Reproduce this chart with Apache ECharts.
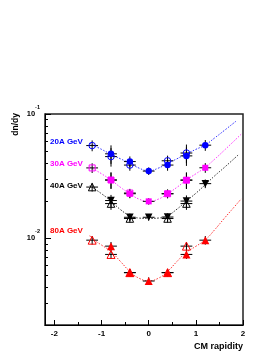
<!DOCTYPE html>
<html><head><meta charset="utf-8">
<script src="https://cdn.jsdelivr.net/npm/echarts@6/dist/echarts.min.js"></script>
<style>html,body{margin:0;padding:0;background:#fff}#c{width:276px;height:357px}</style>
</head><body><div id="c"></div><script>
// ---- data ----
const rapFilled = [-0.8, -0.4, 0, 0.4, 0.8, 1.2];
const rapOpen   = [-1.2, -0.8, -0.4, 0.4, 0.8];
const rapHalfWidth = 0.125;

const e20Filled = [0.0478, 0.0414, 0.0347, 0.0388, 0.0460, 0.0561];
const e20Open   = [0.0557, 0.0454, 0.0388, 0.0420, 0.0485];
const e20ErrF   = [0.17, 0.10, 0.07, 0.10, 0.17, 0.10];
const e20ErrO   = [0.10, 0.17, 0.10, 0.10, 0.17];

const e30Filled = [0.0294, 0.0228, 0.0198, 0.0228, 0.0294, 0.0369];
const e30Open   = [0.0368, 0.0294, 0.0231, 0.0228, 0.0293];
const e30ErrF   = [0.15, 0.08, 0.06, 0.08, 0.15, 0.09];
const e30ErrO   = [0.09, 0.15, 0.08, 0.08, 0.15];

const e40Filled = [0.0201, 0.01474, 0.01474, 0.0148, 0.0199, 0.0275];
const e40Open   = [0.0258, 0.0190, 0.0144, 0.0144, 0.0190];
const e40ErrF   = [0.11, 0.07, 0.06, 0.07, 0.11, 0.08];
const e40ErrO   = [0.08, 0.11, 0.07, 0.07, 0.11];

const e80Filled = [0.00863, 0.00528, 0.00452, 0.00528, 0.0074, 0.00964];
const e80Open   = [0.00964, 0.0074, 0.00528, 0.00528, 0.00863];
const e80ErrF   = [0.08, 0.07, 0.07, 0.07, 0.08, 0.08];
const e80ErrO   = [0.08, 0.08, 0.07, 0.07, 0.08];

// fitted curves (dotted)
const c20X = [-1.25, -1.0, -0.8, -0.6, -0.4, -0.2, 0, 0.2, 0.4, 0.6, 0.8, 1.0, 1.2, 1.4, 1.6, 1.85];
const c20Y = [0.058, 0.0519, 0.0474, 0.0436, 0.0402, 0.0366, 0.0349, 0.0366, 0.0400, 0.0436, 0.0478, 0.0519, 0.0564, 0.0642, 0.0735, 0.0874];
const c30X = [-1.25, -1.2, -1.0, -0.8, -0.6, -0.4, -0.2, 0, 0.2, 0.4, 0.6, 0.8, 1.0, 1.2, 1.4, 1.6, 1.96];
const c30Y = [0.0376, 0.0366, 0.0330, 0.0294, 0.0257, 0.0228, 0.0206, 0.0198, 0.0206, 0.0228, 0.0257, 0.0294, 0.0330, 0.0372, 0.0433, 0.0509, 0.0687];
const c40X = [-1.25, -1.2, -1.0, -0.8, -0.6, -0.4, -0.2, 0, 0.2, 0.4, 0.6, 0.8, 1.0, 1.2, 1.4, 1.6, 1.92];
const c40Y = [0.02647, 0.0257, 0.0228, 0.0199, 0.0170, 0.0152, 0.01452, 0.0144, 0.01452, 0.0152, 0.01715, 0.0199, 0.0230, 0.02696, 0.0318, 0.0370, 0.0476];
const c80X = [-1.25, -1.2, -1.0, -0.8, -0.6, -0.4, -0.2, 0, 0.2, 0.4, 0.6, 0.8, 1.0, 1.2, 1.4, 1.6, 1.8, 1.96];
const c80Y = [0.0105, 0.0099, 0.0088, 0.0078, 0.0065, 0.0054, 0.00475, 0.00454, 0.00475, 0.0054, 0.0065, 0.0077, 0.0086, 0.0097, 0.0117, 0.0144, 0.0176, 0.0207];

const xMajorTicks = [-2, -1, 0, 1, 2];
const xMinorTicks = [-1.5, -0.5, 0.5, 1.5];
const yMajorTicks = [0.01, 0.1];
const yMinorTicks = [0.002, 0.003, 0.004, 0.005, 0.006, 0.007, 0.008, 0.009,
                     0.02, 0.03, 0.04, 0.05, 0.06, 0.07, 0.08, 0.09];

const energyLabels = ['20A GeV', '30A GeV', '40A GeV', '80A GeV'];

// ---- styling ----
const FONT = 'Liberation Sans, Arial, Helvetica, sans-serif';
const sets = [
  {color:'#0000ff', fill:'circle', open:'circle', size:6.5, rot:0, rotO:0,
   f:e20Filled, o:e20Open, ef:e20ErrF, eo:e20ErrO, cx:c20X, cy:c20Y, curve:'#3333ff'},
  {color:'#ff00ff', fill:'rect', open:'rect', size:6, rot:0, rotO:0,
   f:e30Filled, o:e30Open, ef:e30ErrF, eo:e30ErrO, cx:c30X, cy:c30Y, curve:'#ff33ff'},
  {color:'#000000', fill:'triangle', open:'triangle', size:7.5, rot:180, rotO:0,
   f:e40Filled, o:e40Open, ef:e40ErrF, eo:e40ErrO, cx:c40X, cy:c40Y, curve:'#333333'},
  {color:'#ff0000', fill:'triangle', open:'triangle', size:8, rot:0, rotO:0,
   f:e80Filled, o:e80Open, ef:e80ErrF, eo:e80ErrO, cx:c80X, cy:c80Y, curve:'#ff3333'}
];
const labelY = [141.5, 163.5, 186, 231];

function zip(xs, ys) { return xs.map((x, i) => [x, ys[i]]); }
function zip3(xs, ys, es) { return xs.map((x, i) => [x, ys[i], es[i]]); }

function renderErr(params, api) {
  const x = api.value(0), y = api.value(1), e = api.value(2);
  const p = api.coord([x, y]);
  const lo = api.coord([x, y * (1 - e)]);
  const hi = api.coord([x, y * (1 + e)]);
  const l = api.coord([x - rapHalfWidth, y]);
  const r = api.coord([x + rapHalfWidth, y]);
  const st = {stroke:'#000', lineWidth:1};
  return {type:'group', children:[
    {type:'line', shape:{x1:l[0], y1:p[1], x2:r[0], y2:p[1]}, style:st},
    {type:'line', shape:{x1:p[0], y1:lo[1], x2:p[0], y2:hi[1]}, style:st}
  ]};
}

const series = [];
sets.forEach((s, i) => {
  series.push({type:'line', data: zip(s.cx, s.cy), smooth:true, showSymbol:false, silent:true,
    lineStyle:{color:s.curve, width:1, type:[1.5, 1.5]}, z:1});
  series.push({type:'custom', renderItem: renderErr, data: zip3(rapFilled, s.f, s.ef), z:2, silent:true});
  series.push({type:'custom', renderItem: renderErr, data: zip3(rapOpen, s.o, s.eo), z:2, silent:true});
  series.push({type:'scatter', data: zip(rapFilled, s.f), symbol:s.fill, symbolSize:s.size,
    symbolRotate:s.rot, itemStyle:{color:s.color, opacity:1}, z:3, silent:true});
  series.push({type:'scatter', data: zip(rapOpen, s.o), symbol:s.open, symbolSize:s.size,
    symbolRotate:s.rotO, itemStyle:{color:'rgba(0,0,0,0)', borderColor:s.color, borderWidth:1, opacity:1}, z:4, silent:true});
});

const graphics = [
  {type:'text', x:16, y:113, rotation:Math.PI/2,
   style:{text:'dn/dy', font:'bold 8.5px ' + FONT, fill:'#000', align:'right', verticalAlign:'middle'}},
  {type:'text', x:243, y:347,
   style:{text:'CM rapidity', font:'bold 9px ' + FONT, fill:'#000', align:'right', verticalAlign:'middle'}}
];
energyLabels.forEach((t, i) => {
  graphics.push({type:'text', x:50, y:labelY[i],
    style:{text:t, font:'bold 8px ' + FONT, fill:sets[i].color, align:'left', verticalAlign:'middle'}});
});

const chart = echarts.init(document.getElementById('c'), null, {renderer:'canvas'});
chart.setOption({
  animation:false,
  backgroundColor:'#fff',
  grid:{left:45, right:33, top:114, bottom:32, show:true, borderColor:'#222', borderWidth:1.5, backgroundColor:'transparent'},
  xAxis:[
    {type:'value', min:-2.2, max:2, position:'bottom',
     axisLine:{show:true, onZero:false, lineStyle:{color:'#000', width:1}},
     axisTick:{show:true, inside:true, length:5, customValues:xMajorTicks, lineStyle:{color:'#000'}},
     axisLabel:{show:true, customValues:xMajorTicks, margin:5, fontSize:8, fontWeight:'bold', fontFamily:FONT, color:'#000'},
     splitLine:{show:false}},
    {type:'value', min:-2.2, max:2, position:'bottom', offset:0,
     axisLine:{show:false, onZero:false},
     axisTick:{show:true, inside:true, length:3, customValues:xMinorTicks, lineStyle:{color:'#000'}},
     axisLabel:{show:false}, splitLine:{show:false}}
  ],
  yAxis:[
    {type:'log', logBase:10, min:0.002, max:0.1, position:'left',
     axisLine:{show:true, onZero:false, lineStyle:{color:'#000', width:1}},
     axisTick:{show:true, inside:true, length:6, customValues:yMajorTicks, lineStyle:{color:'#000'}},
     axisLabel:{show:true, customValues:yMajorTicks, margin:5, color:'#000',
       formatter: v => '{b|10}{s|' + Math.round(Math.log10(v)) + '}',
       rich:{
         b:{fontSize:7.5, fontWeight:'bold', fontFamily:FONT, lineHeight:20, verticalAlign:'middle', color:'#000'},
         s:{fontSize:5.5, fontWeight:'bold', fontFamily:FONT, lineHeight:6, verticalAlign:'top', color:'#000'}
       }},
     splitLine:{show:false}},
    {type:'log', logBase:10, min:0.002, max:0.1, position:'left', offset:0,
     axisLine:{show:false, onZero:false},
     axisTick:{show:true, inside:true, length:3, customValues:yMinorTicks, lineStyle:{color:'#000'}},
     axisLabel:{show:false}, splitLine:{show:false}}
  ],
  series: series,
  graphic: graphics
});
</script></body></html>
